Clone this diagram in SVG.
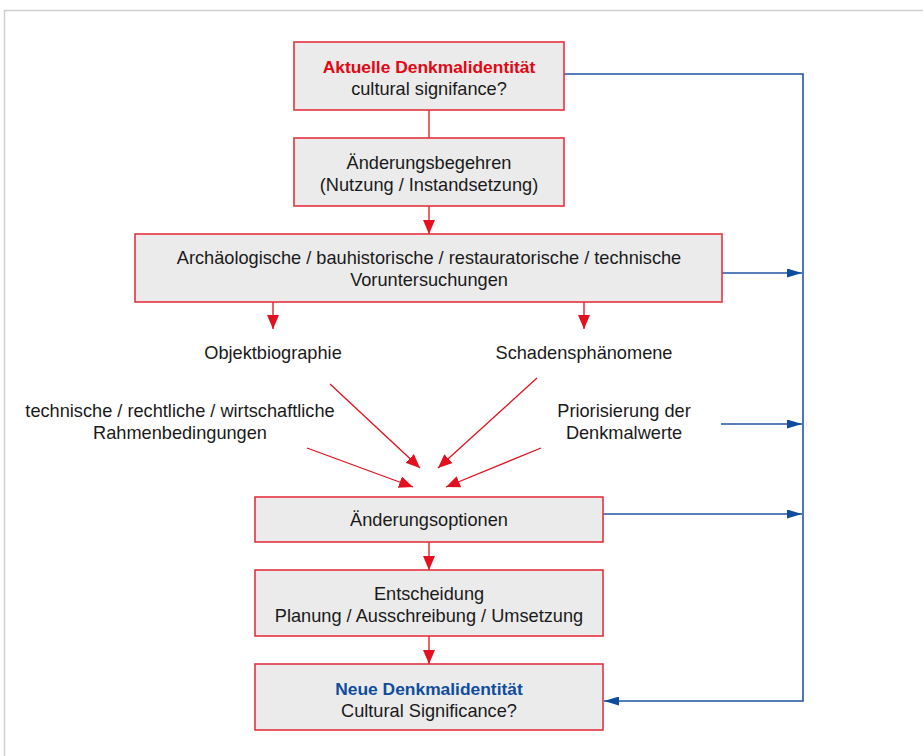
<svg xmlns="http://www.w3.org/2000/svg" width="923" height="756" viewBox="0 0 923 756">
<style>
.box{fill:#ebebeb;stroke:#e5323f;stroke-width:1.6}
.t{font-family:"Liberation Sans",Arial,sans-serif;font-size:18.2px;fill:#1a1a1a;text-anchor:middle}
.b{font-weight:bold;font-size:17.4px}
.red{stroke:#e3101f;stroke-width:1.3;fill:none}
.blue{stroke:#1f56a3;stroke-width:1.6;fill:none}
</style>
<defs>
<marker id="ar" viewBox="0 0 10 10" refX="10" refY="5" markerWidth="14" markerHeight="12" markerUnits="userSpaceOnUse" orient="auto" preserveAspectRatio="none"><path d="M0,0L10,5L0,10z" fill="#e3101f"/></marker>
<marker id="ab" viewBox="0 0 10 10" refX="10" refY="5" markerWidth="15" markerHeight="9" markerUnits="userSpaceOnUse" orient="auto" preserveAspectRatio="none"><path d="M0,0L10,5L0,10z" fill="#0f4c9e"/></marker>
</defs>
<rect width="923" height="756" fill="#fff"/>
<path d="M4.5,760V10.5H923" fill="none" stroke="#cfcfcf" stroke-width="1.5"/>
<g id="connectors">
<line class="red" x1="429" y1="110" x2="429" y2="138"/>
<line class="red" x1="429" y1="206" x2="429" y2="234" marker-end="url(#ar)"/>
<line class="red" x1="273" y1="302" x2="273" y2="329" marker-end="url(#ar)"/>
<line class="red" x1="584" y1="302" x2="584" y2="329" marker-end="url(#ar)"/>
<line class="red" x1="330" y1="384" x2="420" y2="468" marker-end="url(#ar)"/>
<line class="red" x1="537" y1="378" x2="438" y2="468" marker-end="url(#ar)"/>
<line class="red" x1="307" y1="448" x2="413" y2="487" marker-end="url(#ar)"/>
<line class="red" x1="541" y1="448" x2="446" y2="487" marker-end="url(#ar)"/>
<line class="red" x1="429" y1="542" x2="429" y2="570" marker-end="url(#ar)"/>
<line class="red" x1="429" y1="636" x2="429" y2="664" marker-end="url(#ar)"/>
<path class="blue" d="M564,74H803V701H604" marker-end="url(#ab)"/>
<line class="blue" x1="722" y1="273" x2="802" y2="273" marker-end="url(#ab)"/>
<line class="blue" x1="721" y1="424" x2="802" y2="424" marker-end="url(#ab)"/>
<line class="blue" x1="603" y1="514" x2="802" y2="514" marker-end="url(#ab)"/>
</g>
<g id="n1"><rect class="box" x="294" y="42" width="270" height="68"/>
<text class="t b" x="429" y="73" style="fill:#e30613">Aktuelle Denkmalidentität</text>
<text class="t" x="429" y="95">cultural signifance?</text></g>
<g id="n2"><rect class="box" x="294" y="138" width="270" height="68"/>
<text class="t" x="429" y="169">Änderungsbegehren</text>
<text class="t" x="429" y="191">(Nutzung / Instandsetzung)</text></g>
<g id="n3"><rect class="box" x="135" y="234" width="587" height="68"/>
<text class="t" x="429" y="264">Archäologische / bauhistorische / restauratorische / technische</text>
<text class="t" x="429" y="286">Voruntersuchungen</text></g>
<g id="l1"><text class="t" x="273" y="359">Objektbiographie</text></g>
<g id="l2"><text class="t" x="584" y="359">Schadensphänomene</text></g>
<g id="l3"><text class="t" x="180" y="417">technische / rechtliche / wirtschaftliche</text>
<text class="t" x="180" y="439">Rahmenbedingungen</text></g>
<g id="l4"><text class="t" x="624" y="417">Priorisierung der</text>
<text class="t" x="624" y="439">Denkmalwerte</text></g>
<g id="n4"><rect class="box" x="255" y="497" width="348" height="45"/>
<text class="t" x="429" y="526">Änderungsoptionen</text></g>
<g id="n5"><rect class="box" x="255" y="570" width="348" height="66"/>
<text class="t" x="429" y="600">Entscheidung</text>
<text class="t" x="429" y="622">Planung / Ausschreibung / Umsetzung</text></g>
<g id="n6"><rect class="box" x="255" y="664" width="348" height="66"/>
<text class="t b" x="429" y="695" style="fill:#0f4c9e">Neue Denkmalidentität</text>
<text class="t" x="429" y="717">Cultural Significance?</text></g>
</svg>
